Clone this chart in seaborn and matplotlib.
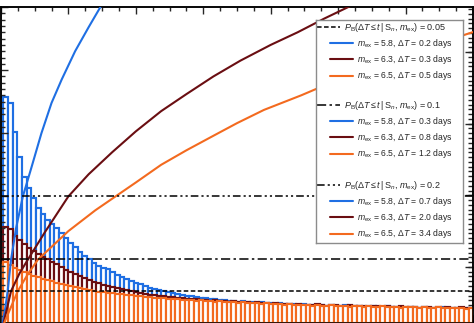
import numpy as np
import pandas as pd
import matplotlib
matplotlib.use("Agg")
import matplotlib.pyplot as plt
from matplotlib.ticker import MultipleLocator
import seaborn as sns

# ---------------------------------------------------------------- data
BIN_W = 0.138  # histogram bin width in days

hist_blue = [
    0.357, 0.357, 0.348, 0.302, 0.262, 0.231, 0.213, 0.197, 0.181, 0.172,
    0.163, 0.156, 0.150, 0.142, 0.134, 0.126, 0.120, 0.112, 0.106, 0.101,
    0.094, 0.090, 0.086, 0.085, 0.080, 0.075, 0.072, 0.069, 0.066, 0.063,
    0.061, 0.058, 0.055, 0.053, 0.052, 0.050, 0.048, 0.047, 0.045, 0.044,
    0.042, 0.042, 0.040, 0.039, 0.039, 0.037, 0.037, 0.036, 0.036, 0.034,
    0.034, 0.033, 0.034, 0.033, 0.033, 0.031, 0.033, 0.031, 0.031, 0.029,
    0.031, 0.029, 0.029, 0.029, 0.028, 0.029, 0.028, 0.028, 0.028, 0.028,
    0.026, 0.028, 0.026, 0.026, 0.028, 0.026, 0.026, 0.026, 0.025, 0.026,
    0.026, 0.025, 0.025, 0.026, 0.025, 0.025, 0.025, 0.023, 0.025, 0.025,
    0.023, 0.025, 0.023, 0.023, 0.023, 0.025, 0.023, 0.023, 0.023, 0.022,
    0.023, 0.023]

hist_darkred = [
    0.144, 0.152, 0.148, 0.137, 0.131, 0.125, 0.118, 0.113, 0.109, 0.104,
    0.101, 0.096, 0.093, 0.088, 0.083, 0.080, 0.077, 0.074, 0.071, 0.068,
    0.064, 0.063, 0.060, 0.058, 0.056, 0.055, 0.053, 0.052, 0.050, 0.048,
    0.047, 0.045, 0.044, 0.044, 0.042, 0.042, 0.040, 0.040, 0.039, 0.039,
    0.037, 0.037, 0.037, 0.036, 0.036, 0.034, 0.036, 0.034, 0.034, 0.033,
    0.034, 0.033, 0.033, 0.033, 0.031, 0.033, 0.031, 0.031, 0.029, 0.031,
    0.029, 0.029, 0.029, 0.028, 0.029, 0.028, 0.028, 0.028, 0.029, 0.028,
    0.026, 0.028, 0.028, 0.026, 0.026, 0.028, 0.026, 0.026, 0.026, 0.025,
    0.026, 0.026, 0.025, 0.026, 0.025, 0.025, 0.026, 0.025, 0.025, 0.025,
    0.023, 0.025, 0.025, 0.023, 0.025, 0.023, 0.025, 0.023, 0.023, 0.025,
    0.023, 0.023]

hist_orange = [
    0.094, 0.096, 0.091, 0.087, 0.083, 0.080, 0.077, 0.074, 0.072, 0.069,
    0.068, 0.066, 0.063, 0.061, 0.060, 0.058, 0.056, 0.055, 0.053, 0.052,
    0.050, 0.048, 0.048, 0.047, 0.047, 0.045, 0.045, 0.044, 0.044, 0.042,
    0.042, 0.040, 0.040, 0.039, 0.039, 0.039, 0.037, 0.037, 0.037, 0.036,
    0.036, 0.036, 0.034, 0.036, 0.034, 0.034, 0.033, 0.034, 0.033, 0.033,
    0.033, 0.031, 0.033, 0.031, 0.031, 0.031, 0.029, 0.031, 0.029, 0.029,
    0.029, 0.028, 0.029, 0.028, 0.028, 0.028, 0.028, 0.026, 0.028, 0.026,
    0.026, 0.028, 0.026, 0.026, 0.026, 0.025, 0.026, 0.026, 0.025, 0.026,
    0.025, 0.025, 0.026, 0.025, 0.025, 0.025, 0.023, 0.025, 0.025, 0.025,
    0.023, 0.025, 0.023, 0.023, 0.025, 0.023, 0.023, 0.023, 0.023, 0.023,
    0.022, 0.023]

# cumulative probability P_B(dT <= t | S_n, m_ex) versus t (days)
t_blue = [0.05, 0.12, 0.2, 0.3, 0.45, 0.65, 0.9, 1.2, 1.5, 1.8, 2.2, 2.6, 2.95, 3.05]
p_blue = [0.0, 0.02, 0.05, 0.1, 0.15, 0.2, 0.245, 0.3, 0.348, 0.385, 0.43, 0.468, 0.5, 0.51]

t_darkred = [0.08, 0.3, 0.55, 0.8, 1.3, 2.0, 2.6, 3.3, 4.0, 4.75, 5.5, 6.3, 7.1,
             8.0, 8.8, 9.6, 10.3, 10.5]
p_darkred = [0.0, 0.05, 0.078, 0.1, 0.143, 0.2, 0.235, 0.27, 0.303, 0.335, 0.362,
             0.39, 0.415, 0.44, 0.46, 0.482, 0.5, 0.505]

t_orange = [0.1, 0.5, 0.8, 1.1, 2.0, 2.8, 3.4, 4.0, 4.75, 5.5, 6.3, 7.0, 7.8, 8.9,
            10.0, 11.0, 12.0, 13.0, 14.1]
p_orange = [0.0, 0.05, 0.077, 0.1, 0.145, 0.178, 0.2, 0.222, 0.25, 0.273, 0.296,
            0.316, 0.337, 0.36, 0.385, 0.405, 0.425, 0.443, 0.462]

prob_levels = [0.05, 0.1, 0.2]
m_ex = [5.8, 6.3, 6.5]
delta_t = {0.05: [0.2, 0.3, 0.5], 0.1: [0.3, 0.8, 1.2], 0.2: [0.7, 2.0, 3.4]}

# ---------------------------------------------------------------- style
sns.set_style("ticks")
plt.rcParams["font.family"] = ["Liberation Sans", "DejaVu Sans"]
plt.rcParams["mathtext.fontset"] = "custom"
plt.rcParams["mathtext.rm"] = "Liberation Sans"
plt.rcParams["mathtext.it"] = "Liberation Sans:italic"
plt.rcParams["mathtext.bf"] = "Liberation Sans:bold"

BLUE = "#1f6fe3"
DARKRED = "#6a0e12"
ORANGE = "#f36a1f"
colors = [BLUE, DARKRED, ORANGE]
level_dashes = {0.05: (3.0, 1.6), 0.1: (6, 2.2, 1.6, 2.2), 0.2: (5, 2, 1.4, 2, 1.4, 2)}

fig = plt.figure(figsize=(4.74, 3.23), dpi=100)
ax = fig.add_axes([0.002, 0.0012, 0.996, 0.9771])
axh = ax.twinx()
ax.set_zorder(axh.get_zorder() + 1)
ax.patch.set_visible(False)

# ---------------------------------------------------------------- histograms
n_bins = len(hist_blue)
centers = np.arange(n_bins) * BIN_W
edges = list((np.arange(n_bins + 1) - 0.5) * BIN_W)
for z, (h, c) in enumerate(zip([hist_blue, hist_darkred, hist_orange], colors)):
    df = pd.DataFrame({"t": centers, "w": h})
    sns.histplot(data=df, x="t", weights="w", bins=edges, fill=True,
                 facecolor="white", edgecolor=c, linewidth=1.55,
                 zorder=1 + z, ax=axh)
axh.set_ylim(0, 0.5)
axh.set_ylabel("")
axh.set_axisbelow(True)

# ---------------------------------------------------------------- curves
for t, p, c in zip([t_blue, t_darkred, t_orange], [p_blue, p_darkred, p_orange], colors):
    sns.lineplot(x=t, y=p, color=c, lw=1.5, sort=False, ax=ax, zorder=4)

for lev in prob_levels:
    ax.axhline(lev, color="black", lw=1.1, dashes=level_dashes[lev], zorder=5)

ax.set_xlim(0, 14)
ax.set_ylim(0, 0.5)
ax.set_xlabel("")
ax.set_ylabel("")

# ---------------------------------------------------------------- ticks and frame
ax.xaxis.set_major_locator(MultipleLocator(2))
ax.xaxis.set_minor_locator(MultipleLocator(0.5))
ax.yaxis.set_major_locator(MultipleLocator(0.1))
ax.yaxis.set_minor_locator(MultipleLocator(0.01))
ax.tick_params(axis="both", which="both", direction="in", labelleft=False,
               labelbottom=False, labeltop=False, labelright=False,
               top=True, bottom=False, left=True, right=False, width=1.0)
ax.tick_params(axis="both", which="major", length=5)
ax.tick_params(axis="both", which="minor", length=3)

axh.xaxis.set_visible(True)
axh.yaxis.set_major_locator(MultipleLocator(0.1135, offset=0.0883))
axh.yaxis.set_minor_locator(MultipleLocator(0.1135 / 15, offset=0.0050))
axh.tick_params(axis="both", which="both", direction="in", labelleft=False,
                labelbottom=False, labeltop=False, labelright=False,
                bottom=True, top=False, left=False, right=True, width=1.0)
axh.tick_params(axis="both", which="major", length=6)
axh.tick_params(axis="both", which="minor", length=3.5)
axh.set_xlabel("")

for a in (ax, axh):
    for s in a.spines.values():
        s.set_linewidth(1.1)
        s.set_color("black")

# ---------------------------------------------------------------- legend panel
lax = fig.add_axes([316 / 474, 1 - 243 / 323, 147 / 474, 223 / 323])
lax.set_zorder(ax.get_zorder() + 2)
lax.set_xlim(0, 147)
lax.set_ylim(223, 0)
lax.set_xticks([])
lax.set_yticks([])
lax.set_facecolor("white")
for s in lax.spines.values():
    s.set_color("#8c8c8c")
    s.set_linewidth(1.0)

FS_HEAD = 6.5
FS_ROW = 6.2
header_y = {0.05: 7, 0.1: 85, 0.2: 165}
for lev in prob_levels:
    y0 = header_y[lev]
    lax.plot([1, 24], [y0, y0], color="black", lw=1.1, dashes=level_dashes[lev])
    lax.text(28, y0, r"$P_{\rm B}(\Delta T \leq t\,|\,{\rm S}_{n},\,m_{\rm ex})$ = "
             + f"{lev:g}", fontsize=FS_HEAD, va="center", ha="left")
    for i, (m, dt, c) in enumerate(zip(m_ex, delta_t[lev], colors)):
        yy = y0 + 16.2 * (i + 1)
        lax.plot([14, 37], [yy, yy], color=c, lw=1.5)
        lax.text(41, yy, r"$m_{\rm ex}$" + f" = {m:.1f}, " + r"$\Delta T$" + f" = {dt:.1f} days",
                 fontsize=FS_ROW, va="center", ha="left")

fig.savefig("out.png", dpi=100)
